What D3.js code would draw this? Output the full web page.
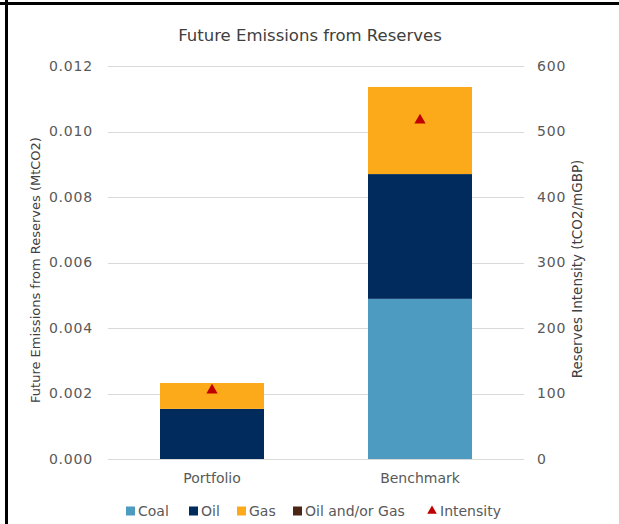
<!DOCTYPE html>
<html>
<head>
  <meta charset="utf-8">
  <script src="https://d3js.org/d3.v7.min.js"></script>
  <style>
    body { margin: 0; background: #fff; }
    text { font-family: "Century Gothic", "DejaVu Sans", sans-serif; }
  </style>
</head>
<body>
  <svg id="chart" width="619" height="524"></svg>
  <script>
    // data
    const categories = ["Portfolio", "Benchmark"];
    const seriesNames = ["Coal", "Oil", "Gas", "Oil and/or Gas"];
    const coal = [0, 0.00489];
    const oil = [0.00153, 0.00381];
    const gas = [0.00079, 0.00266];
    const oilOrGas = [0, 0];
    const intensity = [105, 517];
    const leftTicks = [0, 0.002, 0.004, 0.006, 0.008, 0.010, 0.012];
    const rightTicks = [0, 100, 200, 300, 400, 500, 600];
    const colors = ["#4e9bc2", "#012b5c", "#fdaa1a", "#4b2516"];
    const intensityColor = "#c00000";

    const svg = d3.select("#chart");
    const font = "'Century Gothic', 'DejaVu Sans', sans-serif";

    // frame lines
    svg.append("rect").attr("x", 0).attr("y", 2).attr("width", 619).attr("height", 3).attr("fill", "#000");
    svg.append("rect").attr("x", 5).attr("y", 0).attr("width", 3).attr("height", 524).attr("fill", "#000");

    const plotL = 108, plotR = 524, plotT = 66, plotB = 459;

    const x = d3.scaleBand().domain(categories).range([plotL, plotR]).paddingInner(0.5).paddingOuter(0.25);
    const y = d3.scaleLinear().domain([0, 0.012]).range([plotB, plotT]);
    const y2 = d3.scaleLinear().domain([0, 600]).range([plotB, plotT]);

    // gridlines
    svg.append("g").selectAll("line").data(leftTicks).enter().append("line")
      .attr("x1", plotL).attr("x2", plotR)
      .attr("y1", d => Math.round(y(d)) + 0.5).attr("y2", d => Math.round(y(d)) + 0.5)
      .attr("stroke", "#d9d9d9").attr("stroke-width", 1);

    // stacked bars
    const table = categories.map((c, i) => ({
      cat: c, "Coal": coal[i], "Oil": oil[i], "Gas": gas[i], "Oil and/or Gas": oilOrGas[i]
    }));
    const stacked = d3.stack().keys(seriesNames)(table);
    svg.append("g").selectAll("g").data(stacked).enter().append("g")
      .attr("fill", (d, i) => colors[i])
      .selectAll("rect").data(d => d).enter().append("rect")
      .attr("x", d => x(d.data.cat))
      .attr("width", x.bandwidth())
      .attr("y", d => y(d[1]))
      .attr("height", d => y(d[0]) - y(d[1]));

    // intensity markers
    const tri = d3.symbol().type(d3.symbolTriangle).size(55);
    svg.append("g").selectAll("path").data(intensity).enter().append("path")
      .attr("d", tri)
      .attr("transform", (d, i) => `translate(${x(categories[i]) + x.bandwidth() / 2},${y2(d)})`)
      .attr("fill", intensityColor);

    // left axis
    const la = svg.append("g").attr("transform", `translate(${plotL},0)`)
      .call(d3.axisLeft(y).tickValues(leftTicks).tickFormat(d3.format(".3f")).tickSize(0).tickPadding(15));
    la.select(".domain").remove();
    la.selectAll("text").attr("font-size", 14).attr("letter-spacing", 0.8).attr("fill", "#595959").style("font-family", font);

    // right axis
    const ra = svg.append("g").attr("transform", `translate(${plotR},0)`)
      .call(d3.axisRight(y2).tickValues(rightTicks).tickSize(0).tickPadding(13));
    ra.select(".domain").remove();
    ra.selectAll("text").attr("font-size", 14).attr("letter-spacing", 0.8).attr("fill", "#595959").style("font-family", font);

    // category axis
    svg.append("g").selectAll("text").data(categories).enter().append("text")
      .attr("x", d => x(d) + x.bandwidth() / 2).attr("y", 483)
      .attr("text-anchor", "middle").attr("font-size", 14).attr("fill", "#595959")
      .text(d => d);

    // title
    svg.append("text").attr("x", 310).attr("y", 41).attr("text-anchor", "middle")
      .attr("font-size", 16.5).attr("fill", "#404040").text("Future Emissions from Reserves");

    // axis titles
    svg.append("text").attr("transform", "translate(40,270) rotate(-90)")
      .attr("text-anchor", "middle").attr("font-size", 13).attr("fill", "#404040")
      .text("Future Emissions from Reserves (MtCO2)");
    svg.append("text").attr("transform", "translate(582,269) rotate(-90)")
      .attr("text-anchor", "middle").attr("font-size", 13.5).attr("fill", "#404040")
      .text("Reserves Intensity (tCO2/mGBP)");

    // legend
    const legendItems = seriesNames.map((n, i) => ({ name: n, color: colors[i], type: "rect" }))
      .concat([{ name: "Intensity", color: intensityColor, type: "tri" }]);
    const legendX = [126, 189, 237, 293, 428];
    const lg = svg.append("g");
    legendItems.forEach((d, i) => {
      const g = lg.append("g").attr("transform", `translate(${legendX[i]},511)`);
      if (d.type === "rect") {
        g.append("rect").attr("x", 0).attr("y", -4.5).attr("width", 9).attr("height", 9).attr("fill", d.color);
      } else {
        g.append("path").attr("d", d3.symbol().type(d3.symbolTriangle).size(40)).attr("transform", "translate(4,0)").attr("fill", d.color);
      }
      g.append("text").attr("x", 12).attr("y", 5).attr("font-size", 14).attr("fill", "#595959").text(d.name);
    });
  </script>
</body>
</html>
